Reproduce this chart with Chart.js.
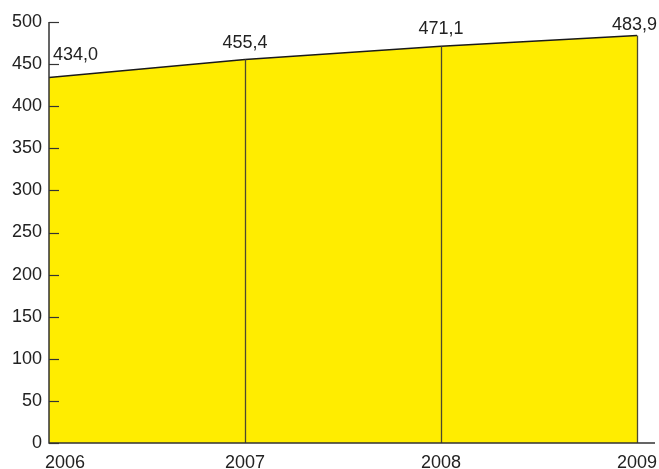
<!DOCTYPE html>
<html>
<head>
<meta charset="utf-8">
<script src="https://cdn.jsdelivr.net/npm/chart.js@4"></script>
<style>
  body { margin: 0; background: #fff; }
  #wrap { width: 659px; height: 469px; }
</style>
</head>
<body>
<div id="wrap"><canvas id="myChart" width="659" height="469"></canvas></div>
<script>
// chart data
const years = ['2006', '2007', '2008', '2009'];
const values = [434.0, 455.4, 471.1, 483.9];
const valueLabels = ['434,0', '455,4', '471,1', '483,9'];
const yTicks = [0, 50, 100, 150, 200, 250, 300, 350, 400, 450, 500];

const FONT = 'Liberation Sans, Arial, sans-serif';

// drop lines, axis lines, inward ticks, year labels and value labels
const extras = {
    id: 'extras',
    afterDatasetsDraw(chart) {
        const ctx = chart.ctx;
        const y = chart.scales.y;
        const area = chart.chartArea;
        const pts = chart.getDatasetMeta(0).data;
        ctx.save();

        // drop lines at each year after the first
        ctx.strokeStyle = '#4d4a2e';
        ctx.lineWidth = 1.3;
        pts.forEach((p, i) => {
            if (i === 0) return;
            ctx.beginPath();
            ctx.moveTo(Math.round(p.x) + 0.5, p.y);
            ctx.lineTo(Math.round(p.x) + 0.5, area.bottom);
            ctx.stroke();
        });

        // axes
        ctx.strokeStyle = '#333';
        ctx.lineWidth = 1.5;
        ctx.beginPath();
        ctx.moveTo(area.left, y.getPixelForValue(500));
        ctx.lineTo(area.left, area.bottom);
        ctx.lineTo(chart.width - 4, area.bottom);
        ctx.stroke();

        // inward tick marks on y
        ctx.lineWidth = 1.2;
        yTicks.forEach(v => {
            const py = Math.round(y.getPixelForValue(v)) + 0.5;
            ctx.beginPath();
            ctx.moveTo(area.left, py);
            ctx.lineTo(area.left + 10, py);
            ctx.stroke();
        });

        ctx.fillStyle = '#222';
        ctx.font = '18px ' + FONT;
        ctx.textBaseline = 'alphabetic';

        // year labels under the axis
        pts.forEach((p, i) => {
            ctx.textAlign = i === 0 ? 'left' : 'center';
            ctx.fillText(years[i], i === 0 ? area.left - 4 : p.x, area.bottom + 25);
        });

        // value labels
        pts.forEach((p, i) => {
            let tx = p.x, off = 12;
            if (i === 0) { ctx.textAlign = 'left'; tx = p.x + 4; off = 18; }
            else if (i === pts.length - 1) { ctx.textAlign = 'right'; tx = chart.width - 2; off = 6; }
            else { ctx.textAlign = 'center'; }
            ctx.fillText(valueLabels[i], tx, p.y - off);
        });
        ctx.restore();
    }
};

new Chart(document.getElementById('myChart').getContext('2d'), {
    type: 'line',
    data: {
        labels: years,
        datasets: [{
            data: values,
            fill: 'origin',
            backgroundColor: '#ffed00',
            borderColor: '#1a1a1a',
            borderWidth: 1.5,
            pointRadius: 0,
            tension: 0
        }]
    },
    options: {
        responsive: false,
        animation: false,
        devicePixelRatio: 1,
        layout: { padding: { top: 22, right: 22, left: 0, bottom: 0 } },
        plugins: { legend: { display: false }, tooltip: { enabled: false } },
        scales: {
            x: {
                type: 'category',
                offset: false,
                grid: { display: false, drawTicks: false },
                border: { display: false },
                ticks: { display: false },
                afterFit(s) { s.height = 26; }
            },
            y: {
                min: 0,
                max: 500,
                grid: { display: false, drawTicks: false },
                border: { display: false },
                ticks: { stepSize: 50, color: '#222', font: { size: 18, family: FONT }, padding: 7 },
                afterFit(s) { s.width = 49; }
            }
        }
    },
    plugins: [extras]
});
</script>
</body>
</html>
